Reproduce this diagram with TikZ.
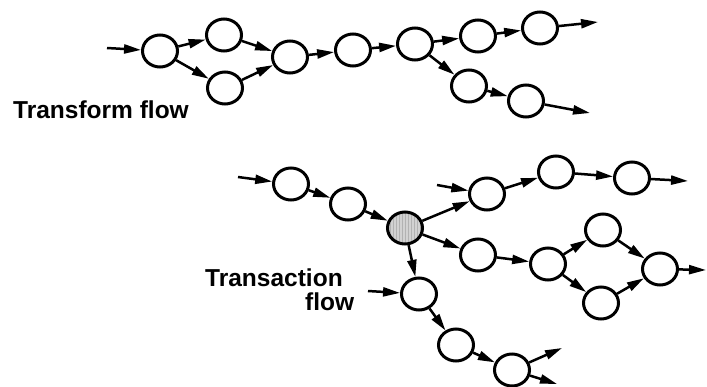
\documentclass[tikz,border=0pt]{standalone}
\usepackage{fontspec}
\setmainfont{Liberation Sans}
\usetikzlibrary{arrows.meta,shapes.geometric,patterns}
\tikzset{bubble/.style = {ellipse, draw, line width=3pt, minimum width=35pt, minimum height=32pt,
		inner sep=0pt},
	hub/.style      = {bubble, preaction={fill=gray!35}, pattern=vertical lines, pattern color=gray!60},
	line/.style     = {draw, line width=2.5pt, -{Triangle[length=17pt,width=9pt]}},
	flowname/.style = {font=\fontsize{24.5}{24}\selectfont\bfseries, inner sep=0pt}
}

\begin{document}
\begin{tikzpicture}[x=1pt, y=-1pt]
		\useasboundingbox (0,0) rectangle (707,386);
		%% transform flow
		\node [bubble] (tf1) at (160,51) {};
		\node [bubble] (tf2) at (224,35) {};
		\node [bubble] (tf3) at (225,88) {};
		\node [bubble] (tf4) at (290,57) {};
		\node [bubble] (tf5) at (353,50) {};
		\node [bubble] (tf6) at (415,44) {};
		\node [bubble] (tf7) at (478,36) {};
		\node [bubble] (tf8) at (540,28) {};
		\node [bubble] (tf9) at (469,86) {};
		\node [bubble] (tf10) at (526,101) {};
		\coordinate (in1) at (107,48);
		\coordinate (out1) at (598,22);
		\coordinate (out2) at (590,113);
		\node [flowname, anchor=base west] (tfname) at (13,118) {Transform flow};
		\path [line] (in1) -- (tf1);
		\path [line] (tf1) -- (tf2);
		\path [line] (tf1) -- (tf3);
		\path [line] (tf2) -- (tf4);
		\path [line] (tf3) -- (tf4);
		\path [line] (tf4) -- (tf5);
		\path [line] (tf5) -- (tf6);
		\path [line] (tf6) -- (tf7);
		\path [line] (tf7) -- (tf8);
		\path [line] (tf8) -- (out1);
		\path [line] (tf6) -- (tf9);
		\path [line] (tf9) -- (tf10);
		\path [line] (tf10) -- (out2);
		%% transaction flow, hub is the transaction center
		\node [bubble] (ta1) at (291,184) {};
		\node [bubble] (ta2) at (348,204) {};
		\node [hub] (hub) at (405,228) {};
		\node [bubble] (ta3) at (487,194) {};
		\node [bubble] (ta4) at (556,172) {};
		\node [bubble] (ta5) at (632,178) {};
		\node [bubble] (ta6) at (478,255) {};
		\node [bubble] (ta7) at (548,264) {};
		\node [bubble] (ta8) at (603,230) {};
		\node [bubble] (ta9) at (601,303) {};
		\node [bubble] (ta10) at (660,269) {};
		\node [bubble] (ta11) at (419,294) {};
		\node [bubble] (ta12) at (456,345) {};
		\node [bubble] (ta13) at (512,370) {};
		\coordinate (in2) at (238,177);
		\coordinate (in3) at (437,185);
		\coordinate (in4) at (368,291);
		\coordinate (out3) at (688,181);
		\coordinate (out4) at (706,270);
		\coordinate (out5) at (562,348);
		\coordinate (out6) at (557,384);
		\node [flowname, anchor=base west, align=left] (taname) at (205,310) {Transaction\\\hspace*{100pt}flow};
		\path [line] (in2) -- (ta1);
		\path [line] (ta1) -- (ta2);
		\path [line] (ta2) -- (hub);
		\path [line] (hub) -- (ta3);
		\path [line] (in3) -- (ta3);
		\path [line] (ta3) -- (ta4);
		\path [line] (ta4) -- (ta5);
		\path [line] (ta5) -- (out3);
		\path [line] (hub) -- (ta6);
		\path [line] (ta6) -- (ta7);
		\path [line] (ta7) -- (ta8);
		\path [line] (ta7) -- (ta9);
		\path [line] (ta8) -- (ta10);
		\path [line] (ta9) -- (ta10);
		\path [line] (ta10) -- (out4);
		\path [line] (hub) -- (ta11);
		\path [line] (in4) -- (ta11);
		\path [line] (ta11) -- (ta12);
		\path [line] (ta12) -- (ta13);
		\path [line] (ta13) -- (out5);
		\path [line] (ta13) -- (out6);
	\end{tikzpicture}
\end{document}
